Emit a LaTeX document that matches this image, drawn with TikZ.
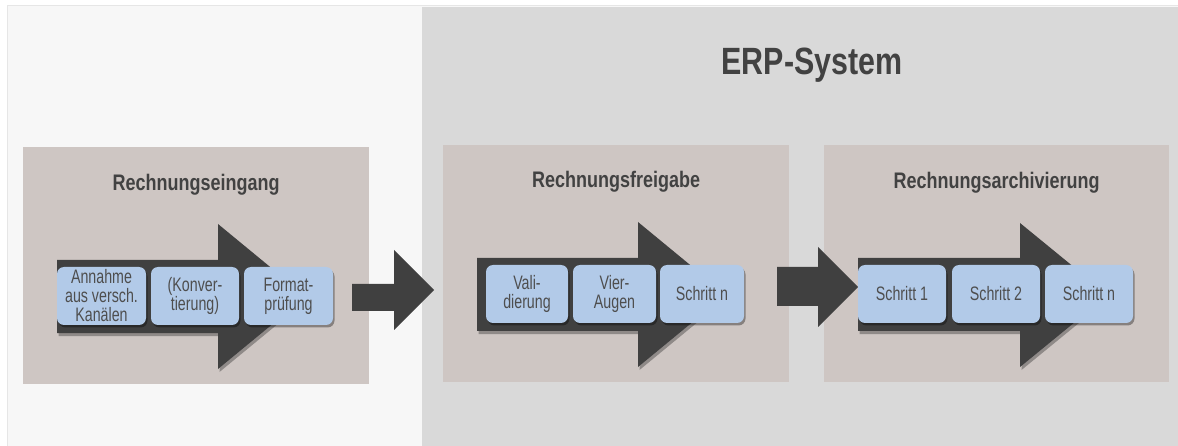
\documentclass[tikz,border=0pt]{standalone}
\usepackage{fontspec}
\setmainfont[FakeStretch=0.8]{Liberation Sans}
\newfontfamily\boxfont[FakeStretch=0.73]{Liberation Sans}
\usetikzlibrary{shadows}
\definecolor{bgl}{HTML}{F7F7F7}
\definecolor{bgline}{HTML}{E6E6E6}
\definecolor{bgg}{HTML}{D9D9D9}
\definecolor{panelc}{HTML}{CEC6C3}
\definecolor{arrc}{HTML}{404040}
\definecolor{stepblue}{HTML}{B2CAE8}
\definecolor{txtc}{HTML}{4E4E4E}
\definecolor{ttlc}{HTML}{424242}
\tikzset{
  panelbox/.style={fill=panelc, draw=none, minimum width=#1, minimum height=237pt, anchor=north west, inner sep=0pt},
  paneltitle/.style={text=ttlc, font=\bfseries\fontsize{22.5}{25}\selectfont, inner sep=0pt},
  stepbox/.style={fill=stepblue, draw=none, rounded corners=7pt, minimum width=#1, minimum height=58pt, inner sep=0pt,
    align=center, text=txtc, font=\boxfont\fontsize{19.5}{19}\selectfont,
    drop shadow={shadow xshift=1.5pt, shadow yshift=-2.5pt, opacity=0.35, fill=black}},
  bigarrow/.style={fill=arrc, drop shadow={shadow xshift=1.5pt, shadow yshift=-3pt, opacity=0.3, fill=black}},
  linkarrow/.style={fill=arrc}
}
\begin{document}
\begin{tikzpicture}[x=1pt,y=-1pt]
\useasboundingbox (0,0) rectangle (1178,446);
\fill[white] (0,0) rectangle (1178,446);
% backgrounds
\fill[bgl] (7,5) rectangle (1178,446);
\draw[bgline, line width=1.2pt] (7.6,446) -- (7.6,5.6) -- (1178,5.6);
\fill[bgg] (422,7) rectangle (1178,446);
\node[text=ttlc, font=\bfseries\fontsize{38}{42}\selectfont, inner sep=0pt] (erp) at (812,65) {ERP-System};
% panels
\node[panelbox=346pt] (p1) at (23,147) {};
\node[panelbox=346pt] (p2) at (443,145) {};
\node[panelbox=345pt] (p3) at (824,145) {};
\node[paneltitle] (t1) at (p1.center |- 0,185) {Rechnungseingang};
\node[paneltitle] (t2) at (p2.center |- 0,182) {Rechnungsfreigabe};
\node[paneltitle] (t3) at (p3.center |- 0,183) {Rechnungsarchivierung};
% arrows inside panels
\fill[bigarrow] (57,260) -- (218,260) -- (218,224) -- (306,296.5) -- (218,369) -- (218,333) -- (57,333) -- cycle;
\fill[bigarrow] (477,258) -- (638,258) -- (638,222) -- (726,294.5) -- (638,367) -- (638,331) -- (477,331) -- cycle;
\fill[bigarrow] (858,258) -- (1020,258) -- (1020,223) -- (1108,295) -- (1020,367) -- (1020,331) -- (858,331) -- cycle;
% link arrows between panels
\fill[linkarrow] (352,284) -- (394,284) -- (394,250) -- (434,290) -- (394,330) -- (394,311) -- (352,311) -- cycle;
\fill[linkarrow] (777,267) -- (818,267) -- (818,247) -- (858,287) -- (818,327) -- (818,306) -- (777,306) -- cycle;
% steps
\node[stepbox=89pt] (a1) at (101.5,296) {Annahme\\aus versch.\\Kanälen};
\node[stepbox=88pt] (a2) at (195,296) {(Konver-\\tierung)};
\node[stepbox=89pt] (a3) at (288.5,296) {Format-\\prüfung};
\node[stepbox=82pt] (b1) at (527,294) {Vali-\\dierung};
\node[stepbox=83pt] (b2) at (614.5,294) {Vier-\\Augen};
\node[stepbox=84pt] (b3) at (702,294) {Schritt n};
\node[stepbox=88pt] (c1) at (902,294) {Schritt 1};
\node[stepbox=88pt] (c2) at (996,294) {Schritt 2};
\node[stepbox=88pt] (c3) at (1089,294) {Schritt n};
\end{tikzpicture}
\end{document}
